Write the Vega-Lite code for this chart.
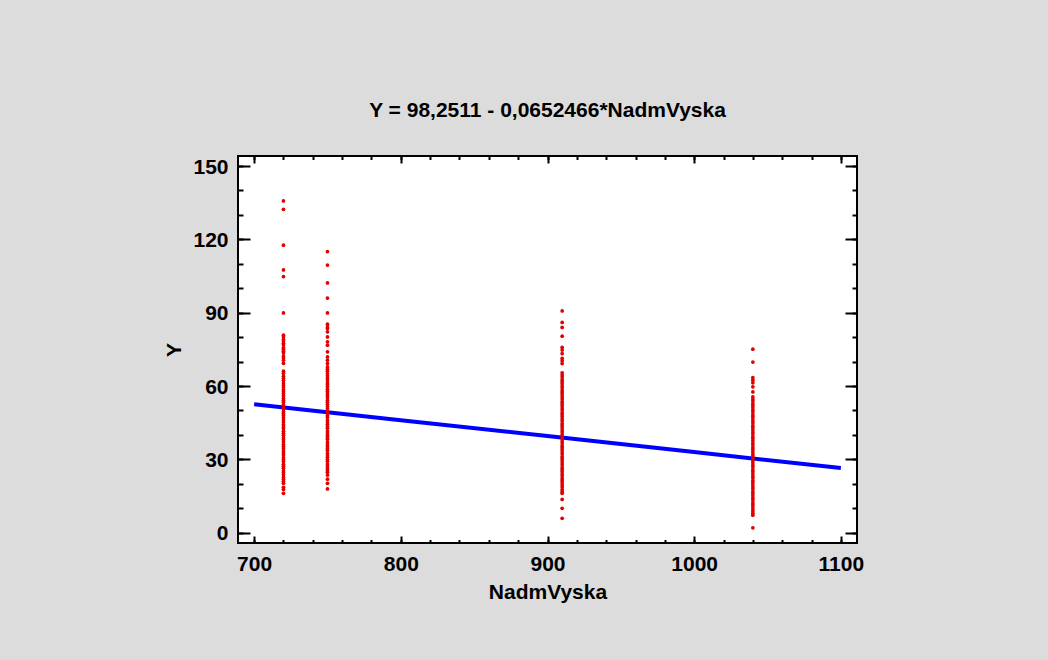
{
  "$schema": "https://vega.github.io/schema/vega-lite/v6.json",
  "autosize": {"type": "none"},
  "width": 619,
  "height": 387,
  "padding": {"left": 238, "top": 156, "right": 191, "bottom": 117},
  "background": "#dcdcdc",
  "title": {
    "text": "Y = 98,2511 - 0,0652466*NadmVyska",
    "font": "Liberation Sans",
    "fontWeight": "bold",
    "fontSize": 21,
    "color": "#000000",
    "anchor": "middle",
    "frame": "group",
    "offset": 34
  },
  "config": {
    "view": {"fill": "#ffffff", "stroke": "#000000", "strokeWidth": 2},
    "axis": {
      "grid": false,
      "domain": false,
      "format": "d",
      "labelFont": "Liberation Sans",
      "labelFontWeight": "bold",
      "labelFontSize": 20,
      "labelColor": "#000000",
      "titleFont": "Liberation Sans",
      "titleFontWeight": "bold",
      "titleFontSize": 21,
      "titleColor": "#000000",
      "tickColor": "#000000",
      "tickWidth": 2
    }
  },
  "datasets": {
    "obs": [
      {"NadmVyska": 720, "Y": 135.7}, {"NadmVyska": 720, "Y": 132.3}, {"NadmVyska": 720, "Y": 117.6}, {"NadmVyska": 720, "Y": 107.5}, {"NadmVyska": 720, "Y": 104.8}, {"NadmVyska": 720, "Y": 89.9},
      {"NadmVyska": 720, "Y": 80.8}, {"NadmVyska": 720, "Y": 80.1}, {"NadmVyska": 720, "Y": 79.0}, {"NadmVyska": 720, "Y": 78.4}, {"NadmVyska": 720, "Y": 77.5}, {"NadmVyska": 720, "Y": 76.9}, {"NadmVyska": 720, "Y": 75.7}, {"NadmVyska": 720, "Y": 75.1}, {"NadmVyska": 720, "Y": 74.2}, {"NadmVyska": 720, "Y": 73.6}, {"NadmVyska": 720, "Y": 72.3}, {"NadmVyska": 720, "Y": 71.5}, {"NadmVyska": 720, "Y": 70.6}, {"NadmVyska": 720, "Y": 69.3},
      {"NadmVyska": 720, "Y": 66.1}, {"NadmVyska": 720, "Y": 65.2}, {"NadmVyska": 720, "Y": 64.0}, {"NadmVyska": 720, "Y": 63.1}, {"NadmVyska": 720, "Y": 62.3}, {"NadmVyska": 720, "Y": 61.2}, {"NadmVyska": 720, "Y": 60.4}, {"NadmVyska": 720, "Y": 59.6}, {"NadmVyska": 720, "Y": 58.5}, {"NadmVyska": 720, "Y": 57.7}, {"NadmVyska": 720, "Y": 56.9}, {"NadmVyska": 720, "Y": 56.0}, {"NadmVyska": 720, "Y": 55.0}, {"NadmVyska": 720, "Y": 54.2}, {"NadmVyska": 720, "Y": 53.4}, {"NadmVyska": 720, "Y": 52.3}, {"NadmVyska": 720, "Y": 51.5}, {"NadmVyska": 720, "Y": 50.7}, {"NadmVyska": 720, "Y": 49.6}, {"NadmVyska": 720, "Y": 48.8}, {"NadmVyska": 720, "Y": 48.0}, {"NadmVyska": 720, "Y": 47.0}, {"NadmVyska": 720, "Y": 46.1}, {"NadmVyska": 720, "Y": 45.3}, {"NadmVyska": 720, "Y": 44.2}, {"NadmVyska": 720, "Y": 43.4}, {"NadmVyska": 720, "Y": 42.6}, {"NadmVyska": 720, "Y": 41.5}, {"NadmVyska": 720, "Y": 40.7}, {"NadmVyska": 720, "Y": 39.9}, {"NadmVyska": 720, "Y": 38.8}, {"NadmVyska": 720, "Y": 38.0}, {"NadmVyska": 720, "Y": 37.2}, {"NadmVyska": 720, "Y": 36.1}, {"NadmVyska": 720, "Y": 35.3}, {"NadmVyska": 720, "Y": 34.5}, {"NadmVyska": 720, "Y": 33.4}, {"NadmVyska": 720, "Y": 32.6}, {"NadmVyska": 720, "Y": 31.8}, {"NadmVyska": 720, "Y": 30.7}, {"NadmVyska": 720, "Y": 29.9}, {"NadmVyska": 720, "Y": 29.1}, {"NadmVyska": 720, "Y": 28.0}, {"NadmVyska": 720, "Y": 27.2}, {"NadmVyska": 720, "Y": 26.4}, {"NadmVyska": 720, "Y": 25.3}, {"NadmVyska": 720, "Y": 24.5}, {"NadmVyska": 720, "Y": 23.7}, {"NadmVyska": 720, "Y": 22.6}, {"NadmVyska": 720, "Y": 21.8}, {"NadmVyska": 720, "Y": 21.0}, {"NadmVyska": 720, "Y": 20.2}, {"NadmVyska": 720, "Y": 18.6}, {"NadmVyska": 720, "Y": 17.7}, {"NadmVyska": 720, "Y": 16.1},
      {"NadmVyska": 750, "Y": 115.0}, {"NadmVyska": 750, "Y": 109.5}, {"NadmVyska": 750, "Y": 102.2}, {"NadmVyska": 750, "Y": 96.0}, {"NadmVyska": 750, "Y": 89.9}, {"NadmVyska": 750, "Y": 85.3}, {"NadmVyska": 750, "Y": 84.2}, {"NadmVyska": 750, "Y": 83.5}, {"NadmVyska": 750, "Y": 82.2}, {"NadmVyska": 750, "Y": 80.1}, {"NadmVyska": 750, "Y": 78.1}, {"NadmVyska": 750, "Y": 76.7}, {"NadmVyska": 750, "Y": 74.0}, {"NadmVyska": 750, "Y": 71.9}, {"NadmVyska": 750, "Y": 70.6}, {"NadmVyska": 750, "Y": 69.2},
      {"NadmVyska": 750, "Y": 67.8}, {"NadmVyska": 750, "Y": 66.9}, {"NadmVyska": 750, "Y": 66.1}, {"NadmVyska": 750, "Y": 65.0}, {"NadmVyska": 750, "Y": 64.2}, {"NadmVyska": 750, "Y": 63.3}, {"NadmVyska": 750, "Y": 62.5}, {"NadmVyska": 750, "Y": 61.4}, {"NadmVyska": 750, "Y": 60.6}, {"NadmVyska": 750, "Y": 59.8}, {"NadmVyska": 750, "Y": 58.7}, {"NadmVyska": 750, "Y": 57.9}, {"NadmVyska": 750, "Y": 57.0}, {"NadmVyska": 750, "Y": 56.1}, {"NadmVyska": 750, "Y": 55.3}, {"NadmVyska": 750, "Y": 54.2}, {"NadmVyska": 750, "Y": 53.4}, {"NadmVyska": 750, "Y": 52.5}, {"NadmVyska": 750, "Y": 51.6}, {"NadmVyska": 750, "Y": 50.8}, {"NadmVyska": 750, "Y": 49.7}, {"NadmVyska": 750, "Y": 48.9}, {"NadmVyska": 750, "Y": 48.0}, {"NadmVyska": 750, "Y": 47.2}, {"NadmVyska": 750, "Y": 46.1}, {"NadmVyska": 750, "Y": 45.3}, {"NadmVyska": 750, "Y": 44.4}, {"NadmVyska": 750, "Y": 43.5}, {"NadmVyska": 750, "Y": 42.7}, {"NadmVyska": 750, "Y": 41.6}, {"NadmVyska": 750, "Y": 40.8}, {"NadmVyska": 750, "Y": 39.9}, {"NadmVyska": 750, "Y": 39.0}, {"NadmVyska": 750, "Y": 38.2}, {"NadmVyska": 750, "Y": 37.1}, {"NadmVyska": 750, "Y": 36.3}, {"NadmVyska": 750, "Y": 35.4}, {"NadmVyska": 750, "Y": 34.5}, {"NadmVyska": 750, "Y": 33.7}, {"NadmVyska": 750, "Y": 32.6}, {"NadmVyska": 750, "Y": 31.8}, {"NadmVyska": 750, "Y": 30.9}, {"NadmVyska": 750, "Y": 30.0}, {"NadmVyska": 750, "Y": 29.2}, {"NadmVyska": 750, "Y": 28.1}, {"NadmVyska": 750, "Y": 27.3}, {"NadmVyska": 750, "Y": 26.4}, {"NadmVyska": 750, "Y": 25.5}, {"NadmVyska": 750, "Y": 24.7}, {"NadmVyska": 750, "Y": 23.6}, {"NadmVyska": 750, "Y": 21.9}, {"NadmVyska": 750, "Y": 20.2}, {"NadmVyska": 750, "Y": 17.9},
      {"NadmVyska": 910, "Y": 90.7}, {"NadmVyska": 910, "Y": 86.0}, {"NadmVyska": 910, "Y": 84.0}, {"NadmVyska": 910, "Y": 80.4}, {"NadmVyska": 910, "Y": 75.8}, {"NadmVyska": 910, "Y": 74.7}, {"NadmVyska": 910, "Y": 73.3}, {"NadmVyska": 910, "Y": 71.3}, {"NadmVyska": 910, "Y": 70.3}, {"NadmVyska": 910, "Y": 69.2},
      {"NadmVyska": 910, "Y": 65.4}, {"NadmVyska": 910, "Y": 64.5}, {"NadmVyska": 910, "Y": 63.7}, {"NadmVyska": 910, "Y": 62.6}, {"NadmVyska": 910, "Y": 61.8}, {"NadmVyska": 910, "Y": 60.9}, {"NadmVyska": 910, "Y": 60.0}, {"NadmVyska": 910, "Y": 59.2}, {"NadmVyska": 910, "Y": 58.1}, {"NadmVyska": 910, "Y": 57.3}, {"NadmVyska": 910, "Y": 56.4}, {"NadmVyska": 910, "Y": 55.5}, {"NadmVyska": 910, "Y": 54.7}, {"NadmVyska": 910, "Y": 53.6}, {"NadmVyska": 910, "Y": 52.8}, {"NadmVyska": 910, "Y": 51.9}, {"NadmVyska": 910, "Y": 51.0}, {"NadmVyska": 910, "Y": 50.2}, {"NadmVyska": 910, "Y": 49.1}, {"NadmVyska": 910, "Y": 48.3}, {"NadmVyska": 910, "Y": 47.4}, {"NadmVyska": 910, "Y": 46.5}, {"NadmVyska": 910, "Y": 45.7}, {"NadmVyska": 910, "Y": 44.6}, {"NadmVyska": 910, "Y": 43.8}, {"NadmVyska": 910, "Y": 42.9}, {"NadmVyska": 910, "Y": 42.0}, {"NadmVyska": 910, "Y": 41.2}, {"NadmVyska": 910, "Y": 40.1}, {"NadmVyska": 910, "Y": 39.3}, {"NadmVyska": 910, "Y": 38.4}, {"NadmVyska": 910, "Y": 37.5}, {"NadmVyska": 910, "Y": 36.7}, {"NadmVyska": 910, "Y": 35.6}, {"NadmVyska": 910, "Y": 34.8}, {"NadmVyska": 910, "Y": 33.9}, {"NadmVyska": 910, "Y": 33.0}, {"NadmVyska": 910, "Y": 32.2}, {"NadmVyska": 910, "Y": 31.1}, {"NadmVyska": 910, "Y": 30.3}, {"NadmVyska": 910, "Y": 29.4}, {"NadmVyska": 910, "Y": 28.5}, {"NadmVyska": 910, "Y": 27.7}, {"NadmVyska": 910, "Y": 26.6}, {"NadmVyska": 910, "Y": 25.8}, {"NadmVyska": 910, "Y": 24.9}, {"NadmVyska": 910, "Y": 24.0}, {"NadmVyska": 910, "Y": 23.2}, {"NadmVyska": 910, "Y": 22.1}, {"NadmVyska": 910, "Y": 21.3}, {"NadmVyska": 910, "Y": 20.4}, {"NadmVyska": 910, "Y": 19.5}, {"NadmVyska": 910, "Y": 18.7}, {"NadmVyska": 910, "Y": 17.6}, {"NadmVyska": 910, "Y": 16.8}, {"NadmVyska": 910, "Y": 16.1}, {"NadmVyska": 910, "Y": 13.6}, {"NadmVyska": 910, "Y": 10.0}, {"NadmVyska": 910, "Y": 5.9},
      {"NadmVyska": 1040, "Y": 75.1}, {"NadmVyska": 1040, "Y": 69.8}, {"NadmVyska": 1040, "Y": 63.4}, {"NadmVyska": 1040, "Y": 62.4}, {"NadmVyska": 1040, "Y": 61.3}, {"NadmVyska": 1040, "Y": 59.7}, {"NadmVyska": 1040, "Y": 57.6}, {"NadmVyska": 1040, "Y": 55.6},
      {"NadmVyska": 1040, "Y": 54.7}, {"NadmVyska": 1040, "Y": 53.9}, {"NadmVyska": 1040, "Y": 52.8}, {"NadmVyska": 1040, "Y": 52.0}, {"NadmVyska": 1040, "Y": 51.1}, {"NadmVyska": 1040, "Y": 50.2}, {"NadmVyska": 1040, "Y": 49.4}, {"NadmVyska": 1040, "Y": 48.3}, {"NadmVyska": 1040, "Y": 47.5}, {"NadmVyska": 1040, "Y": 46.6}, {"NadmVyska": 1040, "Y": 45.7}, {"NadmVyska": 1040, "Y": 44.9}, {"NadmVyska": 1040, "Y": 43.8}, {"NadmVyska": 1040, "Y": 43.0}, {"NadmVyska": 1040, "Y": 42.1}, {"NadmVyska": 1040, "Y": 41.2}, {"NadmVyska": 1040, "Y": 40.4}, {"NadmVyska": 1040, "Y": 39.3}, {"NadmVyska": 1040, "Y": 38.5}, {"NadmVyska": 1040, "Y": 37.6}, {"NadmVyska": 1040, "Y": 36.7}, {"NadmVyska": 1040, "Y": 35.9}, {"NadmVyska": 1040, "Y": 34.8}, {"NadmVyska": 1040, "Y": 34.0}, {"NadmVyska": 1040, "Y": 33.1}, {"NadmVyska": 1040, "Y": 32.2}, {"NadmVyska": 1040, "Y": 31.4}, {"NadmVyska": 1040, "Y": 30.3}, {"NadmVyska": 1040, "Y": 29.5}, {"NadmVyska": 1040, "Y": 28.6}, {"NadmVyska": 1040, "Y": 27.7}, {"NadmVyska": 1040, "Y": 26.9}, {"NadmVyska": 1040, "Y": 25.8}, {"NadmVyska": 1040, "Y": 25.0}, {"NadmVyska": 1040, "Y": 24.1}, {"NadmVyska": 1040, "Y": 23.2}, {"NadmVyska": 1040, "Y": 22.4}, {"NadmVyska": 1040, "Y": 21.3}, {"NadmVyska": 1040, "Y": 20.5}, {"NadmVyska": 1040, "Y": 19.6}, {"NadmVyska": 1040, "Y": 18.7}, {"NadmVyska": 1040, "Y": 17.9}, {"NadmVyska": 1040, "Y": 16.8}, {"NadmVyska": 1040, "Y": 16.0}, {"NadmVyska": 1040, "Y": 15.1}, {"NadmVyska": 1040, "Y": 14.2}, {"NadmVyska": 1040, "Y": 13.4}, {"NadmVyska": 1040, "Y": 12.3}, {"NadmVyska": 1040, "Y": 11.5}, {"NadmVyska": 1040, "Y": 10.6}, {"NadmVyska": 1040, "Y": 9.7}, {"NadmVyska": 1040, "Y": 8.9}, {"NadmVyska": 1040, "Y": 8.0}, {"NadmVyska": 1040, "Y": 7.2}, {"NadmVyska": 1040, "Y": 2.0}
    ],
    "fit": [
      {"NadmVyska": 700, "Fit": 52.58},
      {"NadmVyska": 800, "Fit": 46.05},
      {"NadmVyska": 900, "Fit": 39.53},
      {"NadmVyska": 1000, "Fit": 33.00},
      {"NadmVyska": 1100, "Fit": 26.48}
    ]
  },
  "resolve": {"axis": {"x": "independent", "y": "independent"}},
  "layer": [
    {
      "data": {"name": "fit"},
      "mark": {"type": "line", "color": "#0000ff", "strokeWidth": 4},
      "encoding": {
        "x": {"field": "NadmVyska", "type": "quantitative", "scale": {"domain": [689, 1111], "nice": false, "zero": false},
              "axis": {"orient": "bottom", "values": [700, 720, 740, 760, 780, 800, 820, 840, 860, 880, 900, 920, 940, 960, 980, 1000, 1020, 1040, 1060, 1080, 1100], "tickSize": -3.5, "labels": false, "title": null}},
        "y": {"field": "Fit", "type": "quantitative", "scale": {"domain": [-4.2, 154.1], "nice": false, "zero": false},
              "axis": {"orient": "left", "values": [0, 10, 20, 30, 40, 50, 60, 70, 80, 90, 100, 110, 120, 130, 140, 150], "tickSize": -5, "labels": false, "title": null}}
      }
    },
    {
      "data": {"name": "obs"},
      "mark": {"type": "circle", "color": "#e00000", "size": 14, "opacity": 1},
      "encoding": {
        "x": {"field": "NadmVyska", "type": "quantitative", "scale": {"domain": [689, 1111], "nice": false, "zero": false},
              "axis": {"orient": "bottom", "values": [700, 800, 900, 1000, 1100], "format": "d", "ticks": false, "labelPadding": 10, "labelFontSize": 21, "title": "NadmVyska", "titlePadding": 7}},
        "y": {"field": "Y", "type": "quantitative", "scale": {"domain": [-4.2, 154.1], "nice": false, "zero": false},
              "axis": {"orient": "left", "values": [0, 30, 60, 90, 120, 150], "format": "d", "ticks": false, "labelPadding": 10, "labelOffset": 1, "labelFontSize": 21, "title": "Y", "titlePadding": 8}}
      }
    },
    {
      "data": {"name": "fit"},
      "mark": {"type": "line", "opacity": 0},
      "encoding": {
        "x": {"field": "NadmVyska", "type": "quantitative", "scale": {"domain": [689, 1111], "nice": false, "zero": false},
              "axis": {"orient": "bottom", "values": [700, 800, 900, 1000, 1100], "tickSize": -7, "labels": false, "title": null}},
        "y": {"field": "Fit", "type": "quantitative", "scale": {"domain": [-4.2, 154.1], "nice": false, "zero": false},
              "axis": {"orient": "left", "values": [0, 30, 60, 90, 120, 150], "tickSize": -12, "labels": false, "title": null}}
      }
    },
    {
      "data": {"name": "fit"},
      "mark": {"type": "line", "opacity": 0},
      "encoding": {
        "x": {"field": "NadmVyska", "type": "quantitative", "scale": {"domain": [689, 1111], "nice": false, "zero": false},
              "axis": {"orient": "top", "values": [700, 720, 740, 760, 780, 800, 820, 840, 860, 880, 900, 920, 940, 960, 980, 1000, 1020, 1040, 1060, 1080, 1100], "tickSize": -3.5, "labels": false, "title": null}},
        "y": {"field": "Fit", "type": "quantitative", "scale": {"domain": [-4.2, 154.1], "nice": false, "zero": false},
              "axis": {"orient": "right", "values": [0, 10, 20, 30, 40, 50, 60, 70, 80, 90, 100, 110, 120, 130, 140, 150], "tickSize": -5, "labels": false, "title": null}}
      }
    },
    {
      "data": {"name": "fit"},
      "mark": {"type": "line", "opacity": 0},
      "encoding": {
        "x": {"field": "NadmVyska", "type": "quantitative", "scale": {"domain": [689, 1111], "nice": false, "zero": false},
              "axis": {"orient": "top", "values": [700, 800, 900, 1000, 1100], "tickSize": -7, "labels": false, "title": null}},
        "y": {"field": "Fit", "type": "quantitative", "scale": {"domain": [-4.2, 154.1], "nice": false, "zero": false},
              "axis": {"orient": "right", "values": [0, 30, 60, 90, 120, 150], "tickSize": -12, "labels": false, "title": null}}
      }
    }
  ]
}
